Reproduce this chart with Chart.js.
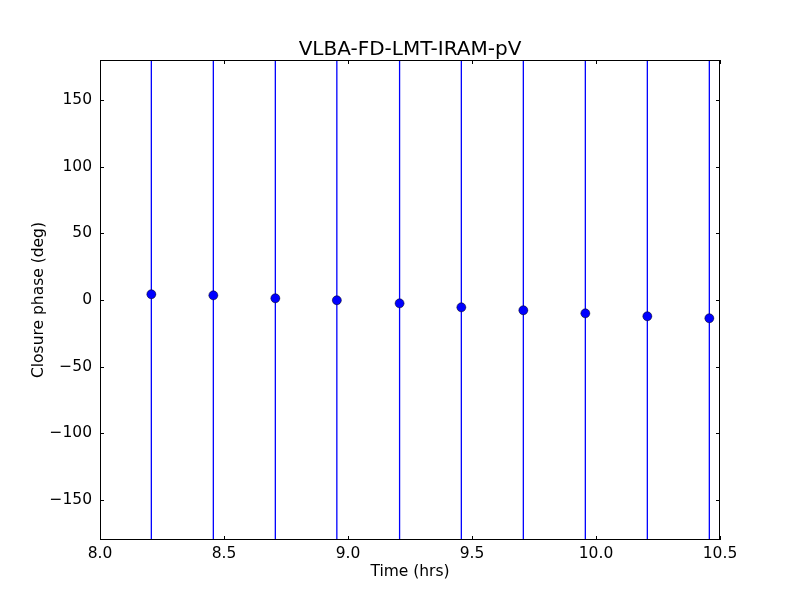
<!DOCTYPE html>
<html>
<head>
<meta charset="utf-8">
<script src="https://cdn.jsdelivr.net/npm/chart.js@4/dist/chart.umd.min.js"></script>
<style>
  body { margin: 0; background: #fff; }
  canvas { display: block; }
</style>
</head>
<body>
<canvas id="closureChart" width="800" height="600"></canvas>
<script>
// =======================
// Data
// =======================
const chartTitle = 'VLBA-FD-LMT-IRAM-pV';
const times = [8.207, 8.457, 8.707, 8.955, 9.208, 9.457, 9.707, 9.957, 10.207, 10.457];
const phases = [4.3, 3.5, 1.3, -0.2, -2.5, -5.5, -7.7, -10.0, -12.2, -13.7];
// error bars run past both edges of the plot
const phaseErrors = [400, 400, 400, 400, 400, 400, 400, 400, 400, 400];
const xTicks = [8.0, 8.5, 9.0, 9.5, 10.0, 10.5];
const yTicks = [-150, -100, -50, 0, 50, 100, 150];

const MINUS = '\u2212';
const fontFamily = '"DejaVu Sans", sans-serif';
const tickSize = 15.5;
const titleSize = 20;

// =======================
// Plugins
// =======================
// vertical error bars, clipped to the axes box
const errorBars = {
  id: 'errorBars',
  beforeDatasetsDraw(chart) {
    const { ctx, chartArea, scales } = chart;
    ctx.save();
    ctx.beginPath();
    ctx.rect(chartArea.left, chartArea.top, chartArea.right - chartArea.left, chartArea.bottom - chartArea.top);
    ctx.clip();
    ctx.strokeStyle = '#0000ff';
    ctx.lineWidth = 1.3;
    times.forEach((t, i) => {
      const x = scales.x.getPixelForValue(t);
      ctx.beginPath();
      ctx.moveTo(x, scales.y.getPixelForValue(phases[i] - phaseErrors[i]));
      ctx.lineTo(x, scales.y.getPixelForValue(phases[i] + phaseErrors[i]));
      ctx.stroke();
    });
    ctx.restore();
  }
};

// matplotlib style frame with inward ticks on all four sides, plus the title
const frame = {
  id: 'frame',
  afterDatasetsDraw(chart) {
    const { ctx, chartArea: a, scales } = chart;
    const len = 4;
    ctx.save();
    ctx.strokeStyle = '#000';
    ctx.lineWidth = 1;
    ctx.beginPath();
    xTicks.forEach(v => {
      const x = Math.round(scales.x.getPixelForValue(v)) + 0.5;
      ctx.moveTo(x, a.bottom); ctx.lineTo(x, a.bottom - len);
      ctx.moveTo(x, a.top); ctx.lineTo(x, a.top + len);
    });
    yTicks.forEach(v => {
      const y = Math.round(scales.y.getPixelForValue(v)) + 0.5;
      ctx.moveTo(a.left, y); ctx.lineTo(a.left + len, y);
      ctx.moveTo(a.right, y); ctx.lineTo(a.right - len, y);
    });
    ctx.stroke();
    ctx.strokeRect(a.left + 0.5, a.top + 0.5, a.right - a.left - 1, a.bottom - a.top - 1);

    ctx.fillStyle = '#000';
    ctx.font = `${titleSize}px ${fontFamily}`;
    ctx.textAlign = 'center';
    ctx.textBaseline = 'alphabetic';
    ctx.fillText(chartTitle, (a.left + a.right) / 2, a.top - 5);
    ctx.restore();
  }
};

const whiteBackground = {
  id: 'whiteBackground',
  beforeDraw(chart) {
    const ctx = chart.ctx;
    ctx.save();
    ctx.fillStyle = '#fff';
    ctx.fillRect(0, 0, chart.width, chart.height);
    ctx.restore();
  }
};

// =======================
// Chart
// =======================
new Chart(document.getElementById('closureChart'), {
  type: 'scatter',
  data: {
    datasets: [{
      label: 'Closure phase',
      data: times.map((t, i) => ({ x: t, y: phases[i] })),
      backgroundColor: '#0000ff',
      borderColor: '#000',
      borderWidth: 0.5,
      pointRadius: 4.5,
      pointHoverRadius: 4.5
    }]
  },
  options: {
    responsive: false,
    animation: false,
    events: [],
    layout: { padding: { top: 60, right: 80, left: 0, bottom: 0 } },
    plugins: {
      legend: { display: false },
      tooltip: { enabled: false },
      title: { display: false }
    },
    scales: {
      x: {
        type: 'linear',
        min: 8.0,
        max: 10.5,
        afterFit(scale) { scale.height = 60; },
        afterBuildTicks(scale) { scale.ticks = xTicks.map(v => ({ value: v })); },
        grid: { display: false, drawTicks: false },
        border: { display: false },
        ticks: {
          color: '#000',
          padding: 5,
          maxRotation: 0,
          font: { family: fontFamily, size: tickSize },
          callback: v => v.toFixed(1)
        },
        title: {
          display: true,
          text: 'Time (hrs)',
          color: '#000',
          font: { family: fontFamily, size: tickSize },
          padding: { top: 1, bottom: 19 }
        }
      },
      y: {
        type: 'linear',
        min: -180,
        max: 180,
        afterFit(scale) { scale.width = 100; },
        afterBuildTicks(scale) { scale.ticks = yTicks.map(v => ({ value: v })); },
        grid: { display: false, drawTicks: false },
        border: { display: false },
        ticks: {
          color: '#000',
          padding: 8,
          font: { family: fontFamily, size: tickSize },
          callback: v => (v < 0 ? MINUS + Math.abs(v) : String(v))
        },
        title: {
          display: true,
          text: 'Closure phase (deg)',
          color: '#000',
          font: { family: fontFamily, size: tickSize },
          padding: { top: 30, bottom: 0 }
        }
      }
    }
  },
  plugins: [whiteBackground, errorBars, frame]
});
</script>
</body>
</html>
